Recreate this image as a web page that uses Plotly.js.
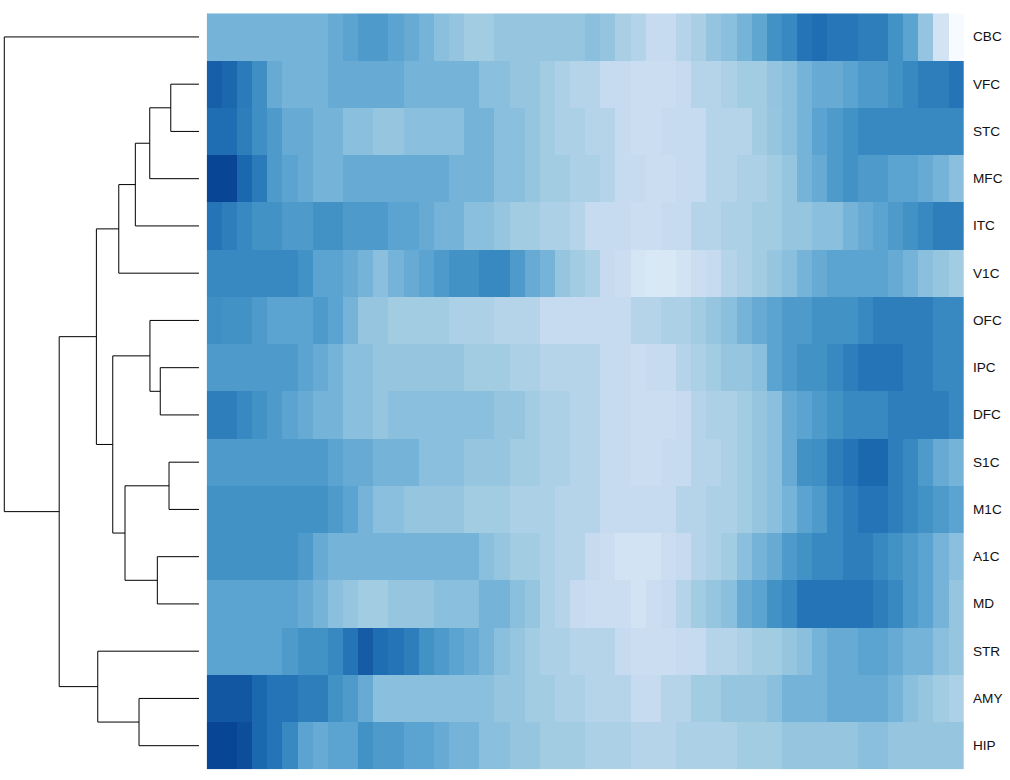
<!DOCTYPE html>
<html>
<head>
<meta charset="utf-8">
<script src="https://cdn.plot.ly/plotly-3.0.1.min.js"></script>
<style>html,body{margin:0;padding:0;background:#fff;}#chart{width:1010px;height:780px;}</style>
</head>
<body>
<div id="chart"></div>
<script>
// Row labels (top to bottom, dendrogram order)
const regions = ["CBC","VFC","STC","MFC","ITC","V1C","OFC","IPC","DFC","S1C","M1C","A1C","MD","STR","AMY","HIP"];
// 50 columns (ordered samples / time points)
const columns = Array.from({length: 50}, (_, i) => i + 1);

// Cell values per region (scale 0 = lightest .. 7 = darkest)
const CBC = [3.8,3.8,3.8,3.8,3.8,3.8,3.8,3.8,4.1,4.4,4.7,4.7,4.4,4.1,3.8,3.4,3.2,2.9,2.9,3.15,3.15,3.15,3.15,3.15,3.15,
             3.4,3.2,2.7,2.5,2.0,2.0,2.4,2.7,3.2,3.4,3.8,4.3,5.0,5.3,5.9,6.1,5.85,5.85,5.6,5.6,5.0,4.4,3.2,1.5,0];
const VFC = [6.4,6.2,5.7,5.1,4.1,3.8,3.8,3.8,4.1,4.1,4.1,4.1,4.1,3.8,3.8,3.8,3.8,3.8,3.4,3.4,3.15,3.15,2.9,2.65,2.4,
             2.4,2.0,2.0,1.8,1.8,1.8,2.0,2.4,2.4,2.65,2.9,2.9,3.2,3.4,3.8,4.1,4.1,4.4,4.7,4.7,5.0,5.3,5.6,5.6,5.9];
const STC = [6.1,6.1,5.6,5.1,4.7,4.1,4.1,3.8,3.8,3.4,3.4,3.15,3.15,3.4,3.4,3.4,3.4,3.8,3.8,3.4,3.4,3.15,2.9,2.65,2.65,
             2.4,2.4,2.0,1.8,1.8,2.0,2.0,2.0,2.4,2.4,2.4,2.9,3.15,3.4,3.8,4.4,4.7,5.0,5.3,5.3,5.3,5.3,5.3,5.3,5.3];
const MFC = [7.0,7.0,6.2,5.7,4.7,4.4,4.1,3.8,3.8,4.1,4.1,4.1,4.1,4.1,4.1,4.1,3.8,3.8,3.8,3.4,3.4,3.15,2.9,2.9,2.65,
             2.65,2.4,2.0,2.0,1.8,1.8,2.0,2.0,2.4,2.4,2.65,2.65,2.9,3.15,3.8,4.1,4.7,5.0,4.7,4.7,4.4,4.4,4.1,3.8,3.4];
const ITC = [5.9,5.6,5.3,5.0,5.0,4.7,4.7,5.0,5.0,4.7,4.7,4.7,4.4,4.4,4.1,3.8,3.8,3.4,3.4,3.15,2.9,2.9,2.65,2.65,2.4,
             2.0,2.0,2.0,1.8,1.8,2.0,2.0,2.4,2.4,2.65,2.65,2.9,2.9,3.15,3.15,3.4,3.4,3.8,4.1,4.4,4.7,5.0,5.3,5.6,5.6];
const V1C = [5.3,5.3,5.3,5.3,5.3,5.3,5.0,4.4,4.4,4.1,3.8,3.4,3.8,4.1,4.4,4.7,5.0,5.0,5.3,5.3,4.7,4.1,3.8,3.15,2.9,
             2.65,2.0,1.8,1.4,1.2,1.2,1.5,1.8,2.0,2.4,2.65,2.9,3.15,3.4,3.8,4.1,4.4,4.4,4.4,4.4,4.1,3.8,3.4,3.15,2.9];
const OFC = [5.1,5.0,5.0,4.7,4.4,4.4,4.4,4.7,4.4,3.8,3.15,3.15,2.9,2.9,2.9,2.9,2.65,2.65,2.65,2.4,2.4,2.4,2.0,2.0,2.0,
             2.0,2.0,2.0,2.4,2.4,2.65,2.65,2.9,3.15,3.4,3.8,4.1,4.4,4.7,4.7,5.0,5.0,5.0,5.3,5.6,5.6,5.6,5.6,5.3,5.3];
const IPC = [4.7,4.7,4.7,4.7,4.7,4.7,4.4,4.1,3.8,3.4,3.4,3.15,3.15,3.15,3.15,3.15,3.15,2.9,2.9,2.9,2.65,2.65,2.4,2.4,2.4,
             2.4,2.0,2.0,1.8,2.0,2.0,2.4,2.65,2.9,3.15,3.15,3.4,4.4,4.7,5.0,5.0,5.3,5.6,5.9,5.9,5.9,5.6,5.6,5.3,5.3];
const DFC = [5.6,5.6,5.3,5.0,4.7,4.4,4.1,3.8,3.8,3.4,3.4,3.15,3.4,3.4,3.4,3.4,3.4,3.4,3.4,3.15,3.15,2.9,2.65,2.65,2.4,
             2.4,2.0,2.0,1.8,1.8,1.8,2.0,2.4,2.65,2.65,2.9,3.15,3.4,4.1,4.4,4.7,5.0,5.3,5.3,5.3,5.6,5.6,5.6,5.6,5.3];
const S1C = [4.7,4.7,4.7,4.7,4.7,4.7,4.7,4.7,4.4,4.1,4.1,3.8,3.8,3.8,3.4,3.4,3.4,3.15,3.15,3.15,2.9,2.9,2.65,2.65,2.4,
             2.4,2.0,2.0,1.8,1.8,2.0,2.0,2.4,2.4,2.65,2.9,3.15,3.4,4.1,5.0,5.1,5.6,5.9,6.2,6.2,5.6,5.3,4.7,4.1,3.8];
const M1C = [5.0,5.0,5.0,5.0,5.0,5.0,5.0,5.0,4.7,4.4,3.8,3.4,3.4,3.15,3.15,3.15,3.15,2.9,2.9,2.9,2.65,2.65,2.65,2.4,2.4,
             2.4,2.0,2.0,2.0,2.0,2.0,2.4,2.4,2.65,2.65,2.9,3.15,3.4,3.8,4.4,4.7,5.3,5.6,5.9,5.9,5.6,5.3,5.0,4.7,4.4];
const A1C = [5.0,5.0,5.0,5.0,5.0,5.0,4.7,4.1,3.8,3.8,3.8,3.8,3.8,3.8,3.8,3.8,3.8,3.8,3.4,3.15,2.9,2.9,2.65,2.4,2.4,
             2.0,1.8,1.5,1.5,1.5,1.8,2.0,2.4,2.65,2.9,3.4,3.8,4.1,4.7,5.0,5.3,5.3,5.6,5.6,5.3,5.0,4.7,4.4,3.8,3.4];
const MD  = [4.4,4.4,4.4,4.4,4.4,4.4,4.1,3.8,3.4,3.15,2.9,2.9,3.15,3.15,3.15,3.4,3.4,3.4,3.8,3.8,3.4,3.15,2.65,2.4,2.0,
             1.8,1.8,1.8,1.5,1.8,2.0,2.4,2.9,3.15,3.4,4.1,4.4,5.0,5.3,5.9,5.9,5.9,5.9,5.9,5.6,5.3,4.7,4.4,3.8,3.15];
const STR = [4.4,4.4,4.4,4.4,4.4,4.7,5.0,5.0,5.3,5.9,6.5,6.1,5.9,5.6,5.0,4.7,4.4,4.1,3.8,3.4,3.15,2.9,2.65,2.65,2.4,
             2.4,2.4,2.0,1.8,1.8,1.8,2.0,2.0,2.4,2.4,2.65,2.9,2.9,3.15,3.4,3.8,4.1,4.1,4.4,4.4,4.1,3.8,3.8,3.4,3.15];
const AMY = [6.6,6.6,6.6,6.2,5.9,5.9,5.6,5.6,5.0,4.7,4.1,3.4,3.4,3.4,3.4,3.4,3.4,3.4,3.4,3.15,3.15,2.9,2.9,2.65,2.65,
             2.4,2.4,2.4,2.0,2.0,2.4,2.4,2.9,2.9,3.15,3.15,3.15,3.4,3.8,3.8,3.8,4.1,4.1,4.1,4.1,3.8,3.4,3.15,2.9,2.65];
const HIP = [7.0,7.0,6.8,6.2,5.9,5.3,4.4,4.1,4.4,4.4,5.0,4.7,4.7,4.4,4.4,4.1,3.8,3.8,3.4,3.4,3.15,3.15,2.9,2.9,2.9,
             2.65,2.65,2.65,2.4,2.4,2.4,2.65,2.65,2.65,2.65,2.9,2.9,2.9,3.15,3.15,3.15,3.15,3.15,3.4,3.4,3.15,3.15,3.15,3.15,3.15];

// Hierarchical clustering merges (children: region name or merge index) and merge heights
const mergeLeft   = ["VFC", 0,     1,     2,     "IPC", "OFC", "S1C", "A1C", 6, 5, 3,  "AMY", "STR", 10, "CBC"];
const mergeRight  = ["STC", "MFC", "ITC", "V1C", "DFC", 4,     "M1C", "MD",  7, 8, 9,  "HIP", 11,    12, 13];
const mergeHeight = [1.45, 2.53, 3.27, 4.12, 1.99, 2.52, 1.54, 2.14, 3.80, 4.43, 5.27, 3.08, 5.20, 7.18, 10.0];

// Brewer "Blues" (8 classes) palette
const bluesPalette = ["#f7fbff","#deebf7","#c6dbef","#9ecae1","#6baed6","#4292c6","#2171b5","#084594"];

const z = [CBC,VFC,STC,MFC,ITC,V1C,OFC,IPC,DFC,S1C,M1C,A1C,MD,STR,AMY,HIP];
const colorscale = bluesPalette.map((c, i) => [i / (bluesPalette.length - 1), c]);

// Build dendrogram segments
const pos = [], hgt = [];
function nodeInfo(n) {
  if (typeof n === "string") return {y: regions.indexOf(n), h: 0};
  return {y: pos[n], h: hgt[n]};
}
const dx = [], dy = [];
for (let i = 0; i < mergeHeight.length; i++) {
  const a = nodeInfo(mergeLeft[i]), b = nodeInfo(mergeRight[i]);
  const h = mergeHeight[i];
  dx.push(a.h, h, h, b.h, null);
  dy.push(a.y, a.y, b.y, b.y, null);
  pos[i] = (a.y + b.y) / 2;
  hgt[i] = h;
}

const W = 1010, H = 780;
const heat = {
  type: "heatmap",
  z: z,
  x: columns.map((c, i) => i),
  y: regions.map((r, i) => i),
  colorscale: colorscale,
  zmin: 0, zmax: 7,
  showscale: false,
  xaxis: "x2", yaxis: "y",
  hoverinfo: "skip"
};
const dendro = {
  type: "scatter", mode: "lines",
  x: dx, y: dy,
  line: {color: "#000000", width: 1},
  xaxis: "x", yaxis: "y",
  hoverinfo: "skip", showlegend: false
};

const annotations = regions.map((r, i) => ({
  text: r, xref: "paper", yref: "y", x: 971 / W, y: i,
  xanchor: "left", yanchor: "middle", showarrow: false,
  font: {family: "Liberation Sans, Arial, sans-serif", size: 13.6, color: "#111111"}
}));

const layout = {
  width: W, height: H,
  margin: {l: 0, r: 0, t: 0, b: 0},
  paper_bgcolor: "#ffffff", plot_bgcolor: "rgba(0,0,0,0)",
  showlegend: false,
  xaxis: {domain: [0.4 / W, 200.95 / W], range: [10.2, -0.1], visible: false, showgrid: false, zeroline: false, fixedrange: true},
  xaxis2: {domain: [206.7 / W, 964 / W], range: [-0.5, 49.5], visible: false, showgrid: false, zeroline: false, anchor: "y", fixedrange: true},
  yaxis: {domain: [1 - 769.3 / H, 1 - 13.3 / H], range: [15.5, -0.5], visible: false, showgrid: false, zeroline: false, fixedrange: true},
  annotations: annotations
};

Plotly.newPlot("chart", [heat, dendro], layout, {displayModeBar: false, staticPlot: true});
</script>
</body>
</html>
